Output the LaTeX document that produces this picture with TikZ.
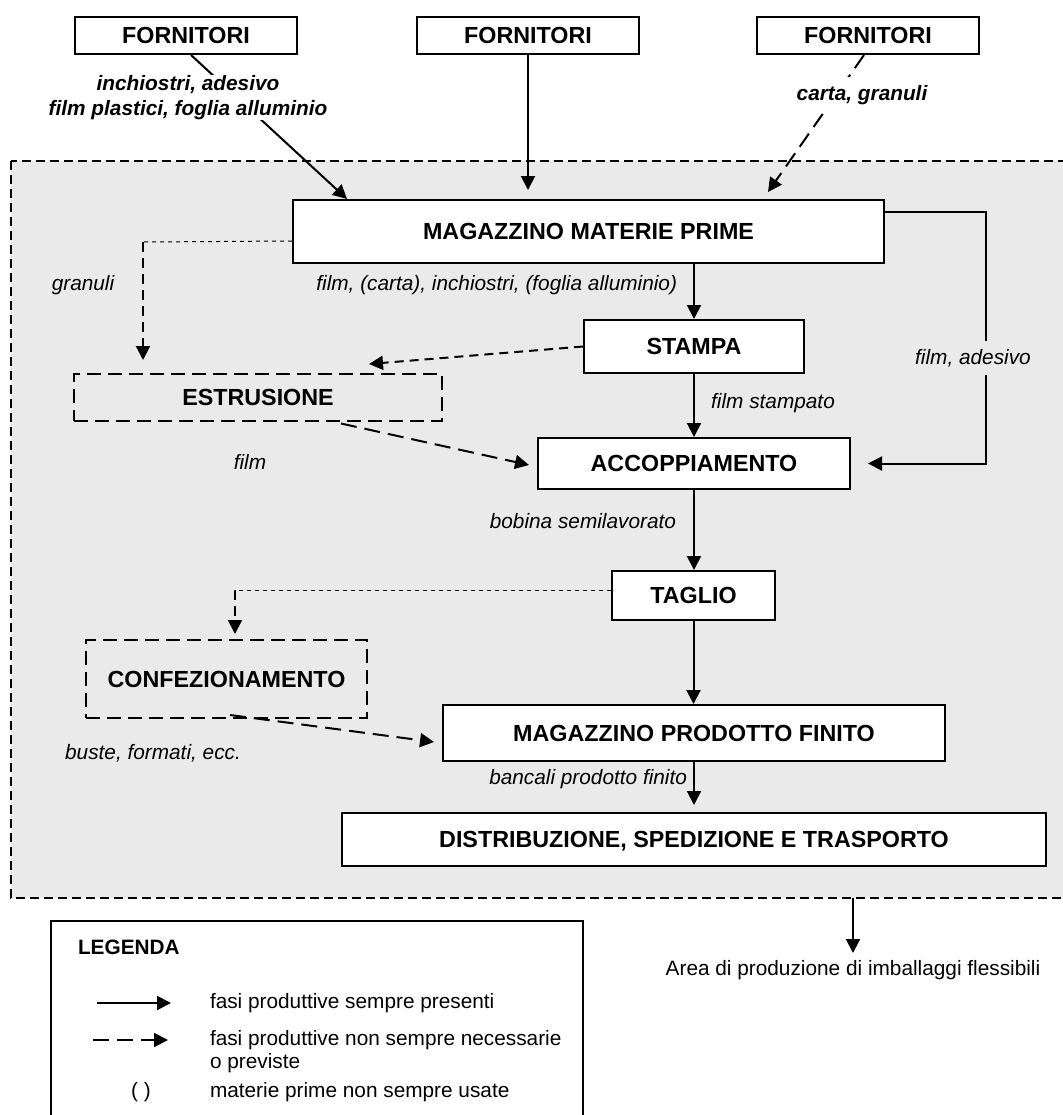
\documentclass[tikz,border=0pt]{standalone}
\usepackage{fontspec}
\setmainfont{Liberation Sans}
\usepackage{tikz}
\usetikzlibrary{positioning}
\usetikzlibrary{arrows.meta,calc}
\definecolor{zona}{RGB}{234,234,234}
\tikzstyle{every node}=[font=\fontsize{10.4}{12.5}\selectfont]
\tikzstyle{every path}=[line width=1pt,line join=miter]
\tikzstyle{fase}=[draw,fill=white,inner sep=0pt,text height=8.3pt,text depth=0pt,font=\fontsize{11.65}{14}\selectfont\bfseries]
\tikzstyle{fasetratt}=[fase,fill=none,dash pattern=on 7pt off 3.5pt]
\tikzstyle{freccia}=[-{Triangle[length=7pt,width=7pt]}]
\tikzstyle{frecciatr}=[freccia,dash pattern=on 8pt off 4pt]
\tikzstyle{sottile}=[line width=0.5pt,dash pattern=on 2pt off 2pt]
\tikzstyle{voce}=[inner sep=0pt,font=\fontsize{10.4}{12.5}\selectfont\itshape]
\tikzstyle{vocef}=[voce,font=\fontsize{10.4}{12.5}\selectfont\bfseries\itshape]

\begin{document}
\begin{tikzpicture}[x=0.5pt,y=-0.5pt]
  \useasboundingbox (0,0) rectangle (1062,1115);
  \draw[fill=zona,dash pattern=on 4.5pt off 2.5pt] (11,161) rectangle (1090,898);
  \coordinate (uscita) at (853,898);

  \node[fase,minimum width=111pt,minimum height=18.5pt] (forn1) at (186,35.5) {FORNITORI};
  \node[fase,minimum width=111pt,minimum height=18.5pt] (forn2) at (528,35.5) {FORNITORI};
  \node[fase,minimum width=111pt,minimum height=18.5pt] (forn3) at (868,35.5) {FORNITORI};
  \node[fase,minimum width=295.5pt,minimum height=31.5pt] (mmp) at (588.5,231.5) {MAGAZZINO MATERIE PRIME};
  \node[fase,minimum width=110pt,minimum height=26.5pt] (stampa) at (694,346.5) {STAMPA};
  \node[fasetratt,minimum width=184pt,minimum height=23.5pt] (estr) at (258,397.5) {ESTRUSIONE};
  \node[fase,minimum width=156pt,minimum height=25.5pt] (acc) at (694,463.5) {ACCOPPIAMENTO};
  \node[fase,minimum width=81.5pt,minimum height=24.5pt] (taglio) at (693.5,595.5) {TAGLIO};
  \node[fasetratt,minimum width=140.5pt,minimum height=39pt] (conf) at (226.5,679) {CONFEZIONAMENTO};
  \node[fase,minimum width=251pt,minimum height=28pt] (mpf) at (694,733) {MAGAZZINO PRODOTTO FINITO};
  \node[fase,minimum width=352pt,minimum height=26.5pt] (dist) at (694,839.5) {DISTRIBUZIONE, SPEDIZIONE E TRASPORTO};

  \draw[freccia] ($(forn1.south)+(5,0)$) -- ($(mmp.north west)+(55,0)$);
  \draw[freccia,shorten >=4.5pt] (forn2.south) -- (forn2.south |- mmp.north);
  \draw[frecciatr] ($(forn3.south)+(-4,0)$) -- ($(mmp.north east)+(-117,-7)$);
  \node[vocef,fill=white,inner sep=4pt] at (862,95) {carta, granuli};
  \node[vocef,fill=white,align=center] at (188,97.5) {inchiostri, adesivo\\film plastici, foglia alluminio};

  \draw[freccia] (stampa.north |- mmp.south) -- (stampa.north);
  \node[voce,anchor=east] at (678,285) {film, (carta), inchiostri, (foglia alluminio)};
  \draw[freccia] ($(mmp.north east)+(0,13)$) -| ($(acc.east)+(135,0)$) -- ($(acc.east)+(17,0)$);
  \node[voce,fill=zona,inner sep=4pt] at (973,358) {film, adesivo};

  \coordinate (angolo1) at (143,242);
  \draw[sottile] ($(mmp.north west)+(0,42)$) -- (angolo1);
  \draw[freccia,dash pattern=on 5pt off 3pt] (angolo1) -- ($(angolo1 |- estr.north)+(0,-13)$);
  \node[voce] at (83,285) {granuli};

  \draw[freccia,dash pattern=on 4.5pt off 3pt] (stampa.west) -- ($(estr.north east)+(-74,-9)$);
  \draw[freccia] (stampa.south) -- (acc.north);
  \node[voce] at (773,403) {film stampato};
  \draw[frecciatr] ($(estr.south)+(83,1.5)$) -- ($(acc.west)+(-8,1.5)$);
  \node[voce] at (250,462) {film};

  \draw[freccia] (acc.south) -- (acc.south |- taglio.north);
  \node[voce,anchor=east] at (677,521) {bobina semilavorato};

  \coordinate (angolo2) at (235,590);
  \draw[sottile] (taglio.west |- angolo2) -- (angolo2);
  \draw[freccia,dash pattern=on 5pt off 3pt] (angolo2) -- ($(angolo2 |- conf.north)+(0,-5)$);
  \draw[freccia] (taglio.south) -- (taglio.south |- mpf.north);
  \draw[frecciatr] ($(conf.south)+(3.5,-4)$) -- ($(mpf.west)+(-8,9)$);
  \node[voce] at (153,753) {buste, formati, ecc.};

  \draw[freccia,shorten >=3.5pt] (mpf.south) -- (mpf.south |- dist.north);
  \node[voce,anchor=east] at (688,779) {bancali prodotto finito};

  \node[inner sep=0pt] (area) at (853,970) {Area di produzione di imballaggi flessibili};
  \draw[freccia] (uscita) -- ($(uscita)+(0,55)$);

  \draw[line width=0.8pt] (51,921) rectangle (583,1140);
  \node[anchor=west,inner sep=0pt,font=\fontsize{10.4}{12.5}\selectfont\bfseries] (legenda) at (77,947) {LEGENDA};
  \coordinate (sempreA) at (97,1003);
  \coordinate (sempreB) at (171,1003);
  \draw[freccia] (sempreA) -- (sempreB);
  \node[anchor=west,inner sep=0pt] at (209,1003) {fasi produttive sempre presenti};
  \coordinate (talvoltaA) at (93,1040);
  \coordinate (talvoltaB) at (168,1040);
  \draw[frecciatr] (talvoltaA) -- (talvoltaB);
  \node[anchor=west,inner sep=0pt,align=left,font=\fontsize{10.4}{11.5}\selectfont] at (209,1051.5) {fasi produttive non sempre necessarie\\o previste};
  \node[inner sep=0pt] at (141,1092) {( )};
  \node[anchor=west,inner sep=0pt] at (209,1092) {materie prime non sempre usate};
\end{tikzpicture}
\end{document}
